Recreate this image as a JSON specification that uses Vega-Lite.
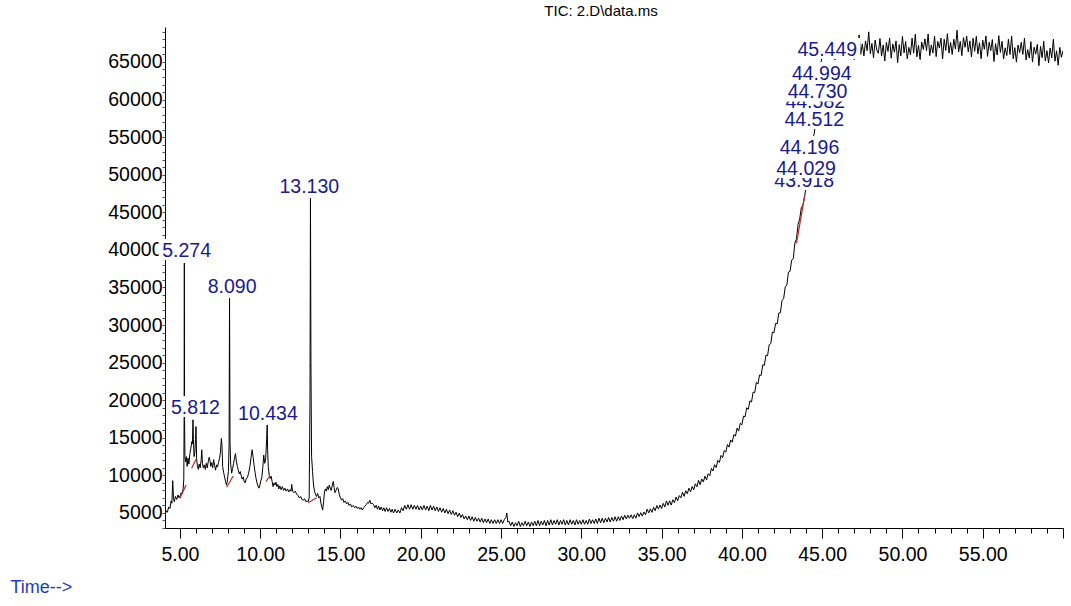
{
"$schema":"https://vega.github.io/schema/vega-lite/v6.json",
"width":898,"height":501,
"autosize":{"type":"none"},
"padding":{"left":165,"top":27,"right":8,"bottom":78},
"background":"white",
"title":{"text":"TIC: 2.D\\data.ms","font":"Liberation Sans","fontSize":15,"fontWeight":"normal","color":"black","anchor":"middle","dx":-13,"offset":3},
"config":{"view":{"stroke":null},"axis":{"domainColor":"black","domainWidth":1,"grid":false,"labelFont":"Liberation Sans","labelFontSize":19.5,"labelColor":"black"}},
"datasets":{
"tic":[
{"t":4.07,"v":4730},{"t":4.15,"v":5300},{"t":4.22,"v":5100},{"t":4.30,"v":5800},{"t":4.38,"v":5600},{"t":4.45,"v":6600},{"t":4.50,"v":6300},{"t":4.55,"v":9300},{"t":4.60,"v":6900},{"t":4.65,"v":6500},{"t":4.72,"v":7200},{"t":4.80,"v":6800},{"t":4.88,"v":7400},{"t":4.95,"v":7000},{"t":5.02,"v":7300},{"t":5.08,"v":7700},{"t":5.14,"v":7600},{"t":5.20,"v":8200},{"t":5.24,"v":9500},{"t":5.26,"v":17000},{"t":5.274,"v":38250},{"t":5.29,"v":17300},{"t":5.31,"v":12500},{"t":5.35,"v":11800},{"t":5.40,"v":12500},{"t":5.45,"v":11200},{"t":5.50,"v":12300},{"t":5.56,"v":11500},{"t":5.62,"v":12900},{"t":5.68,"v":13600},{"t":5.74,"v":14500},{"t":5.78,"v":14200},{"t":5.812,"v":17400},{"t":5.84,"v":14800},{"t":5.88,"v":12500},{"t":5.93,"v":13000},{"t":5.97,"v":14800},{"t":6.00,"v":16500},{"t":6.04,"v":12200},{"t":6.08,"v":11400},{"t":6.14,"v":10800},{"t":6.20,"v":11500},{"t":6.26,"v":11000},{"t":6.32,"v":12000},{"t":6.36,"v":13400},{"t":6.40,"v":11600},{"t":6.46,"v":11000},{"t":6.52,"v":11400},{"t":6.58,"v":10800},{"t":6.64,"v":11600},{"t":6.70,"v":11000},{"t":6.76,"v":11800},{"t":6.82,"v":12400},{"t":6.87,"v":12000},{"t":6.92,"v":11200},{"t":6.98,"v":11700},{"t":7.04,"v":11000},{"t":7.10,"v":12100},{"t":7.16,"v":11300},{"t":7.22,"v":10700},{"t":7.28,"v":11400},{"t":7.34,"v":11100},{"t":7.40,"v":11700},{"t":7.46,"v":12200},{"t":7.52,"v":13000},{"t":7.58,"v":14900},{"t":7.62,"v":14000},{"t":7.66,"v":11200},{"t":7.72,"v":10400},{"t":7.78,"v":9800},{"t":7.84,"v":9200},{"t":7.90,"v":8700},{"t":7.96,"v":9400},{"t":8.02,"v":10500},{"t":8.06,"v":14000},{"t":8.09,"v":33550},{"t":8.12,"v":14500},{"t":8.16,"v":11500},{"t":8.22,"v":10300},{"t":8.28,"v":10900},{"t":8.34,"v":11600},{"t":8.40,"v":12300},{"t":8.46,"v":12900},{"t":8.52,"v":11800},{"t":8.58,"v":11200},{"t":8.64,"v":10600},{"t":8.70,"v":10200},{"t":8.76,"v":10500},{"t":8.82,"v":9900},{"t":8.88,"v":9500},{"t":8.94,"v":9800},{"t":9.00,"v":9200},{"t":9.06,"v":9000},{"t":9.12,"v":9500},{"t":9.20,"v":9700},{"t":9.28,"v":10300},{"t":9.36,"v":11200},{"t":9.44,"v":12600},{"t":9.50,"v":13400},{"t":9.56,"v":12400},{"t":9.62,"v":11300},{"t":9.68,"v":10400},{"t":9.74,"v":9600},{"t":9.80,"v":9000},{"t":9.86,"v":8600},{"t":9.92,"v":8300},{"t":9.98,"v":8700},{"t":10.04,"v":9300},{"t":10.10,"v":9700},{"t":10.16,"v":11000},{"t":10.22,"v":12700},{"t":10.28,"v":11600},{"t":10.34,"v":12200},{"t":10.40,"v":14800},{"t":10.434,"v":16700},{"t":10.46,"v":13500},{"t":10.50,"v":11200},{"t":10.56,"v":10000},{"t":10.62,"v":9600},{"t":10.68,"v":9900},{"t":10.74,"v":9200},{"t":10.80,"v":8500},{"t":10.86,"v":9000},{"t":10.92,"v":8700},{"t":10.98,"v":9100},{"t":11.04,"v":8500},{"t":11.10,"v":8800},{"t":11.16,"v":8200},{"t":11.22,"v":8600},{"t":11.30,"v":8100},{"t":11.38,"v":8500},{"t":11.46,"v":8000},{"t":11.54,"v":8300},{"t":11.62,"v":7900},{"t":11.70,"v":8200},{"t":11.78,"v":7800},{"t":11.86,"v":8100},{"t":11.92,"v":7900},{"t":11.96,"v":8800},{"t":12.02,"v":7900},{"t":12.10,"v":7700},{"t":12.18,"v":7900},{"t":12.27,"v":7500},{"t":12.36,"v":7300},{"t":12.44,"v":7000},{"t":12.52,"v":7200},{"t":12.60,"v":6800},{"t":12.68,"v":6700},{"t":12.76,"v":6900},{"t":12.84,"v":6500},{"t":12.92,"v":6600},{"t":12.99,"v":6500},{"t":13.05,"v":7000},{"t":13.10,"v":20000},{"t":13.13,"v":46860},{"t":13.16,"v":25000},{"t":13.20,"v":12500},{"t":13.26,"v":10500},{"t":13.32,"v":8700},{"t":13.38,"v":7900},{"t":13.44,"v":7500},{"t":13.50,"v":7200},{"t":13.58,"v":7600},{"t":13.64,"v":7000},{"t":13.72,"v":7200},{"t":13.78,"v":6300},{"t":13.84,"v":5800},{"t":13.89,"v":5400},{"t":13.95,"v":6500},
{"t":14.00,"v":7800},{"t":14.06,"v":8200},{"t":14.12,"v":7900},{"t":14.18,"v":8500},{"t":14.24,"v":8100},{"t":14.30,"v":8700},{"t":14.36,"v":8300},{"t":14.42,"v":8000},{"t":14.48,"v":8600},{"t":14.55,"v":9200},{"t":14.60,"v":8400},{"t":14.66,"v":7700},{"t":14.72,"v":8000},{"t":14.80,"v":8400},{"t":14.86,"v":8200},{"t":14.92,"v":7500},{"t":15.00,"v":7000},{"t":15.07,"v":6700},{"t":15.14,"v":6900},{"t":15.22,"v":6400},{"t":15.30,"v":6600},{"t":15.38,"v":6200},{"t":15.46,"v":6400},{"t":15.54,"v":6000},{"t":15.62,"v":6200},{"t":15.70,"v":5800},{"t":15.79,"v":6000},{"t":15.88,"v":5700},{"t":15.96,"v":5900},{"t":16.04,"v":5600},{"t":16.12,"v":5800},{"t":16.20,"v":5500},{"t":16.28,"v":5700},{"t":16.36,"v":5400},{"t":16.44,"v":5700},{"t":16.52,"v":5900},{"t":16.60,"v":6100},{"t":16.68,"v":6400},{"t":16.75,"v":6300},{"t":16.83,"v":6700},{"t":16.90,"v":6200},{"t":16.98,"v":6300},
{"t":17.06,"v":6100},{"t":17.14,"v":5700},{"t":17.22,"v":6000},{"t":17.30,"v":5500},{"t":17.38,"v":5900},{"t":17.46,"v":5400},{"t":17.54,"v":5800},{"t":17.62,"v":5300},{"t":17.70,"v":5700},{"t":17.78,"v":5200},{"t":17.87,"v":5700},{"t":17.96,"v":5200},{"t":18.05,"v":5600},{"t":18.14,"v":5100},{"t":18.22,"v":5500},{"t":18.30,"v":5000},{"t":18.40,"v":5500},{"t":18.50,"v":5000},{"t":18.60,"v":5400},{"t":18.70,"v":5000},{"t":18.80,"v":5700},{"t":18.90,"v":5300},{"t":19.00,"v":6000},{"t":19.10,"v":5500},{"t":19.20,"v":6100},{"t":19.30,"v":5500},{"t":19.40,"v":6100},{"t":19.50,"v":5500},{"t":19.60,"v":6000},{"t":19.70,"v":5500},{"t":19.80,"v":6000},{"t":19.90,"v":5400},{"t":20.00,"v":5900},{"t":20.10,"v":5400},{"t":20.20,"v":6000},{"t":20.30,"v":5400},{"t":20.40,"v":5900},{"t":20.50,"v":5300},{"t":20.60,"v":6000},{"t":20.70,"v":5400},{"t":20.80,"v":5900},{"t":20.90,"v":5300},{"t":21.00,"v":5800},{"t":21.10,"v":5200},{"t":21.20,"v":5700},{"t":21.30,"v":5100},{"t":21.40,"v":5600},{"t":21.50,"v":5000},{"t":21.60,"v":5500},{"t":21.70,"v":4900},{"t":21.80,"v":5400},{"t":21.90,"v":4800},{"t":22.00,"v":5300},{"t":22.10,"v":4700},{"t":22.20,"v":5100},{"t":22.30,"v":4500},{"t":22.40,"v":5000},{"t":22.50,"v":4400},{"t":22.60,"v":4800},{"t":22.70,"v":4200},{"t":22.80,"v":4600},{"t":22.90,"v":4100},{"t":23.00,"v":4600},{"t":23.10,"v":4000},{"t":23.20,"v":4500},{"t":23.30,"v":3900},{"t":23.40,"v":4400},{"t":23.50,"v":3900},{"t":23.60,"v":4300},{"t":23.70,"v":3800},{"t":23.80,"v":4300},{"t":23.90,"v":3700},{"t":24.00,"v":4200},{"t":24.10,"v":3700},{"t":24.20,"v":4200},{"t":24.30,"v":3600},{"t":24.40,"v":4100},{"t":24.50,"v":3600},{"t":24.60,"v":4100},{"t":24.70,"v":3600},{"t":24.80,"v":4100},{"t":24.90,"v":3600},{"t":25.00,"v":4100},{"t":25.10,"v":3600},{"t":25.20,"v":4100},{"t":25.30,"v":4400},{"t":25.36,"v":5000},{"t":25.42,"v":3800},
{"t":25.50,"v":3900},{"t":25.60,"v":3300},{"t":25.70,"v":3800},{"t":25.80,"v":3200},{"t":25.90,"v":3700},{"t":26.00,"v":3300},{"t":26.10,"v":3900},{"t":26.20,"v":3200},{"t":26.30,"v":3700},{"t":26.40,"v":3300},{"t":26.50,"v":3900},{"t":26.60,"v":3300},{"t":26.70,"v":3800},{"t":26.80,"v":3200},{"t":26.90,"v":3800},{"t":27.00,"v":3300},{"t":27.10,"v":3900},{"t":27.20,"v":3300},{"t":27.30,"v":4000},{"t":27.40,"v":3300},{"t":27.50,"v":3900},{"t":27.60,"v":3400},{"t":27.70,"v":4000},{"t":27.80,"v":3300},{"t":27.90,"v":4000},{"t":28.00,"v":3400},{"t":28.10,"v":4100},{"t":28.20,"v":3400},{"t":28.30,"v":4000},{"t":28.40,"v":3500},{"t":28.50,"v":4100},{"t":28.60,"v":3400},{"t":28.70,"v":4000},{"t":28.80,"v":3500},{"t":28.90,"v":4100},{"t":29.00,"v":3400},{"t":29.10,"v":4000},{"t":29.20,"v":3400},{"t":29.30,"v":4100},{"t":29.40,"v":3500},{"t":29.50,"v":4000},{"t":29.60,"v":3400},{"t":29.70,"v":4100},{"t":29.80,"v":3500},{"t":29.90,"v":4000},{"t":30.00,"v":3500},{"t":30.10,"v":4100},{"t":30.20,"v":3500},{"t":30.30,"v":4000},{"t":30.40,"v":3500},{"t":30.50,"v":4200},{"t":30.60,"v":3600},{"t":30.70,"v":4100},{"t":30.80,"v":3600},{"t":30.90,"v":4200},{"t":31.00,"v":3600},{"t":31.10,"v":4300},{"t":31.20,"v":3700},{"t":31.30,"v":4300},{"t":31.40,"v":3700},{"t":31.50,"v":4300},{"t":31.60,"v":3800},{"t":31.70,"v":4400},{"t":31.80,"v":3800},{"t":31.90,"v":4400},{"t":32.00,"v":3900},{"t":32.10,"v":4500},{"t":32.20,"v":3900},{"t":32.30,"v":4500},{"t":32.40,"v":4000},{"t":32.50,"v":4600},{"t":32.60,"v":4100},{"t":32.70,"v":4700},{"t":32.80,"v":4200},{"t":32.90,"v":4700},{"t":33.00,"v":4300},
{"t":33.1,"v":4750},{"t":33.2,"v":4250},{"t":33.3,"v":4755},{"t":33.4,"v":4310},{"t":33.5,"v":5010},{"t":33.6,"v":4515},{"t":33.7,"v":5040},{"t":33.8,"v":4570},{"t":33.9,"v":5135},{"t":34.0,"v":4750},{"t":34.1,"v":5505},{"t":34.2,"v":5010},{"t":34.3,"v":5545},{"t":34.4,"v":5080},{"t":34.5,"v":5765},{"t":34.6,"v":5300},{"t":34.7,"v":5985},{"t":34.8,"v":5520},{"t":34.9,"v":6055},{"t":35.0,"v":5590},{"t":35.1,"v":6275},{"t":35.2,"v":5810},{"t":35.3,"v":6595},{"t":35.4,"v":6030},{"t":35.5,"v":6615},{"t":35.6,"v":6050},{"t":35.7,"v":6760},{"t":35.8,"v":6370},{"t":35.9,"v":7120},{"t":36.0,"v":6620},{"t":36.1,"v":7315},{"t":36.2,"v":7010},{"t":36.3,"v":7760},{"t":36.4,"v":7210},{"t":36.5,"v":7955},{"t":36.6,"v":7550},{"t":36.7,"v":8305},{"t":36.8,"v":7810},{"t":36.9,"v":8515},{"t":37.0,"v":8070},{"t":37.1,"v":8880},{"t":37.2,"v":8490},{"t":37.3,"v":9350},{"t":37.4,"v":8760},{"t":37.5,"v":9520},{"t":37.6,"v":9130},{"t":37.7,"v":9890},{"t":37.8,"v":9400},{"t":37.9,"v":10220},{"t":38.0,"v":9940},{"t":38.1,"v":10935},{"t":38.2,"v":10580},{"t":38.3,"v":11415},{"t":38.4,"v":11050},{"t":38.5,"v":11985},{"t":38.6,"v":11720},{"t":38.7,"v":12660},{"t":38.8,"v":12350},{"t":38.9,"v":13300},{"t":39.0,"v":13100},{"t":39.1,"v":14105},{"t":39.2,"v":13760},{"t":39.3,"v":14715},{"t":39.4,"v":14420},{"t":39.5,"v":15425},{"t":39.6,"v":15230},{"t":39.7,"v":16285},{"t":39.8,"v":15890},{"t":39.9,"v":16935},{"t":40.0,"v":16730},{"t":40.1,"v":17885},{"t":40.2,"v":17790},{"t":40.3,"v":18990},{"t":40.4,"v":18790},{"t":40.5,"v":19925},{"t":40.6,"v":19760},{"t":40.7,"v":21080},{"t":40.8,"v":21000},{"t":40.9,"v":22375},{"t":41.0,"v":22150},{"t":41.1,"v":23350},{"t":41.2,"v":23300},{"t":41.3,"v":24700},{"t":41.4,"v":24650},{"t":41.5,"v":25985},{"t":41.6,"v":25920},{"t":41.7,"v":27380},{"t":41.8,"v":27540},{"t":41.9,"v":29060},{"t":42.0,"v":28980},{"t":42.1,"v":30215},{"t":42.2,"v":30150},{"t":42.3,"v":31595},{"t":42.4,"v":31640},{"t":42.5,"v":33290},{"t":42.6,"v":33490},{"t":42.7,"v":35080},{"t":42.8,"v":35320},{"t":42.9,"v":37035},{"t":43.0,"v":37150},{"t":43.1,"v":38635},{"t":43.2,"v":38820},{"t":43.3,"v":40915},{"t":43.4,"v":41460},{"t":43.5,"v":43405},{"t":43.6,"v":44100},{"t":43.7,"v":45600},{"t":43.8,"v":45950},{"t":43.92,"v":47290},
{"t":44.0,"v":48500},{"t":44.1,"v":50200},{"t":44.2,"v":52000},{"t":44.3,"v":53600},{"t":44.4,"v":54700},{"t":44.5,"v":55400},{"t":44.6,"v":57200},{"t":44.7,"v":59600},{"t":44.8,"v":62100},{"t":44.9,"v":64400},{"t":45.0,"v":66000},{"t":45.1,"v":67400},{"t":45.2,"v":65900},{"t":45.3,"v":67700},{"t":45.4,"v":65700},{"t":45.45,"v":66200},
{"t":45.5,"v":67900},{"t":45.6,"v":65820},{"t":45.7,"v":67340},{"t":45.8,"v":65260},{"t":45.9,"v":67780},{"t":46.0,"v":66400},{"t":46.1,"v":67900},{"t":46.2,"v":65740},{"t":46.3,"v":67160},{"t":46.4,"v":66080},{"t":46.5,"v":67900},{"t":46.6,"v":65620},{"t":46.7,"v":67640},{"t":46.8,"v":66760},{"t":46.9,"v":67900},{"t":47.0,"v":65300},{"t":47.1,"v":67900},{"t":47.2,"v":66400},{"t":47.3,"v":68600},{"t":47.4,"v":66000},{"t":47.5,"v":67400},{"t":47.6,"v":65800},{"t":47.7,"v":67800},{"t":47.8,"v":66500},{"t":47.9,"v":69000},{"t":48.0,"v":66100},{"t":48.1,"v":67470},{"t":48.2,"v":65540},{"t":48.3,"v":67910},{"t":48.4,"v":66580},{"t":48.5,"v":66150},{"t":48.6,"v":68120},{"t":48.7,"v":65790},{"t":48.8,"v":67260},{"t":48.9,"v":65130},{"t":49.0,"v":67600},{"t":49.1,"v":66400},{"t":49.2,"v":68200},{"t":49.3,"v":65500},{"t":49.4,"v":67400},{"t":49.5,"v":66300},{"t":49.6,"v":67800},{"t":49.7,"v":64900},{"t":49.8,"v":67300},{"t":49.9,"v":65800},{"t":50.0,"v":68400},{"t":50.1,"v":66210},{"t":50.2,"v":67720},{"t":50.3,"v":65430},{"t":50.4,"v":66940},{"t":50.5,"v":65950},{"t":50.6,"v":68160},{"t":50.7,"v":66170},{"t":50.8,"v":68680},{"t":50.9,"v":65690},{"t":51.0,"v":67200},{"t":51.1,"v":65320},{"t":51.2,"v":67640},{"t":51.3,"v":66660},{"t":51.4,"v":68080},{"t":51.5,"v":66500},{"t":51.6,"v":68720},{"t":51.7,"v":65840},{"t":51.8,"v":67260},{"t":51.9,"v":66180},{"t":52.0,"v":68400},{"t":52.1,"v":65720},{"t":52.2,"v":67740},{"t":52.3,"v":66860},{"t":52.4,"v":68180},{"t":52.5,"v":65400},{"t":52.6,"v":68020},{"t":52.7,"v":66540},{"t":52.8,"v":68760},{"t":52.9,"v":66180},{"t":53.0,"v":67600},{"t":53.1,"v":66005},{"t":53.2,"v":68010},{"t":53.3,"v":66715},{"t":53.4,"v":69220},{"t":53.5,"v":66325},{"t":53.6,"v":67730},{"t":53.7,"v":65835},{"t":53.8,"v":68240},{"t":53.9,"v":66945},{"t":54.0,"v":68450},{"t":54.1,"v":66325},{"t":54.2,"v":67800},{"t":54.3,"v":65675},{"t":54.4,"v":68150},{"t":54.5,"v":66425},{"t":54.6,"v":68400},{"t":54.7,"v":66075},{"t":54.8,"v":67550},{"t":54.9,"v":65425},{"t":55.0,"v":67900},{"t":55.1,"v":66680},{"t":55.2,"v":68460},{"t":55.3,"v":65740},{"t":55.4,"v":67620},{"t":55.5,"v":66500},{"t":55.6,"v":67980},{"t":55.7,"v":65060},{"t":55.8,"v":67440},{"t":55.9,"v":65920},{"t":56.0,"v":68500},{"t":56.1,"v":66270},{"t":56.2,"v":67740},{"t":56.3,"v":65410},{"t":56.4,"v":66880},{"t":56.5,"v":65850},{"t":56.6,"v":68020},{"t":56.7,"v":65990},{"t":56.8,"v":68460},{"t":56.9,"v":65430},{"t":57.0,"v":66900},{"t":57.1,"v":64980},{"t":57.2,"v":67260},{"t":57.3,"v":66240},{"t":57.4,"v":67620},{"t":57.5,"v":66000},{"t":57.6,"v":68180},{"t":57.7,"v":65260},{"t":57.8,"v":66640},{"t":57.9,"v":65520},{"t":58.0,"v":67700},{"t":58.1,"v":64980},{"t":58.2,"v":66960},{"t":58.3,"v":66040},{"t":58.4,"v":67320},{"t":58.5,"v":64500},{"t":58.6,"v":67080},{"t":58.7,"v":65560},{"t":58.8,"v":67740},{"t":58.9,"v":65120},{"t":59.0,"v":66500},{"t":59.1,"v":64880},{"t":59.2,"v":66860},{"t":59.3,"v":65540},{"t":59.4,"v":68020},{"t":59.5,"v":65100},{"t":59.6,"v":66480},{"t":59.7,"v":64560},{"t":59.8,"v":66940},{"t":59.9,"v":65620},{"t":60.0,"v":66500}
],
"baselines":[
{"g":"a","t":5.00,"v":6950},{"g":"a","t":5.38,"v":8720},
{"g":"b","t":5.73,"v":10950},{"g":"b","t":6.00,"v":12140},
{"g":"c","t":7.91,"v":8420},{"g":"c","t":8.32,"v":9920},
{"g":"d","t":10.36,"v":9160},{"g":"d","t":10.60,"v":9920},
{"g":"e","t":12.99,"v":6370},{"g":"e","t":13.51,"v":7030},
{"g":"f","t":43.40,"v":40870},{"g":"f","t":43.92,"v":47290}
],
"labels":[
{"label":"5.274","t":5.417,"v":39050},
{"label":"5.812","t":5.965,"v":18170},
{"label":"8.090","t":8.25,"v":34260},
{"label":"10.434","t":10.48,"v":17370},
{"label":"13.130","t":13.06,"v":47630},
{"label":"44.029","t":44.0,"v":49950},
{"label":"44.196","t":44.21,"v":52750},
{"label":"44.512","t":44.51,"v":56470},
{"label":"44.730","t":44.71,"v":60150},
{"label":"44.994","t":44.975,"v":62590},
{"label":"45.449","t":45.32,"v":65780}
],
"coveredLabels":[
{"label":"43.918","t":43.88,"v":48360},
{"label":"44.582","t":44.57,"v":58860}
]
},
"layer":[
{"data":{"name":"tic"},
 "mark":{"type":"line","color":"black","strokeWidth":1,"clip":true},
 "encoding":{
  "x":{"field":"t","type":"quantitative","scale":{"domain":[4.07,60],"nice":false,"zero":false},
   "axis":{"values":[5,6,7,8,9,10,11,12,13,14,15,16,17,18,19,20,21,22,23,24,25,26,27,28,29,30,31,32,33,34,35,36,37,38,39,40,41,42,43,44,45,46,47,48,49,50,51,52,53,54,55,56,57,58,59,60],
    "tickCount":200,
    "format":".2f","labelExpr":"datum.value % 5 === 0 && datum.value < 60 ? datum.label : ''",
    "tickSize":{"condition":{"test":"datum.value % 5 === 0","value":10},"value":5},
    "tickColor":"black","labelPadding":7,"labelOverlap":false,"labelFlush":false,
    "title":"Time-->","titleFont":"Liberation Sans","titleFontSize":18,"titleFontWeight":"normal","titleColor":"#1e3cb4","titleX":-155,"titleY":64,"titleAlign":"left","titleBaseline":"alphabetic"}},
  "y":{"field":"v","type":"quantitative","scale":{"domain":[3000,69650],"nice":false,"zero":false},
   "axis":{"values":[3000,4000,5000,6000,7000,8000,9000,10000,11000,12000,13000,14000,15000,16000,17000,18000,19000,20000,21000,22000,23000,24000,25000,26000,27000,28000,29000,30000,31000,32000,33000,34000,35000,36000,37000,38000,39000,40000,41000,42000,43000,44000,45000,46000,47000,48000,49000,50000,51000,52000,53000,54000,55000,56000,57000,58000,59000,60000,61000,62000,63000,64000,65000,66000,67000,68000,69000],
    "tickCount":200,
    "format":"d","labelExpr":"datum.value % 5000 === 0 ? datum.label : ''",
    "tickSize":3,"tickColor":"#555555","labelPadding":0,"labelOverlap":false,"labelFlush":false,"title":null}}
 }},
{"data":{"name":"baselines"},
 "mark":{"type":"line","color":"#c0282d","strokeWidth":1.2},
 "encoding":{"x":{"field":"t","type":"quantitative"},"y":{"field":"v","type":"quantitative"},"detail":{"field":"g","type":"nominal"}}},
{"data":{"name":"coveredLabels"},
 "mark":{"type":"point","shape":"M-1,-0.318L1,-0.318L1,0.318L-1,0.318Z","size":4356,"filled":true,"color":"white","opacity":1,"strokeWidth":0,"yOffset":-7.5},
 "encoding":{"x":{"field":"t","type":"quantitative"},"y":{"field":"v","type":"quantitative"}}},
{"data":{"name":"coveredLabels"},
 "mark":{"type":"text","align":"center","baseline":"alphabetic","font":"Liberation Sans","fontSize":19.5,"color":"#1a1a8c"},
 "encoding":{"x":{"field":"t","type":"quantitative"},"y":{"field":"v","type":"quantitative"},"text":{"field":"label"}}},
{"data":{"name":"labels"},
 "transform":[{"filter":"length(datum.label) == 5"}],
 "mark":{"type":"point","shape":"M-1,-0.375L1,-0.375L1,0.375L-1,0.375Z","size":3136,"filled":true,"color":"white","opacity":1,"strokeWidth":0,"yOffset":-7.5},
 "encoding":{"x":{"field":"t","type":"quantitative"},"y":{"field":"v","type":"quantitative"}}},
{"data":{"name":"labels"},
 "transform":[{"filter":"length(datum.label) == 6"}],
 "mark":{"type":"point","shape":"M-1,-0.318L1,-0.318L1,0.318L-1,0.318Z","size":4356,"filled":true,"color":"white","opacity":1,"strokeWidth":0,"yOffset":-7.5},
 "encoding":{"x":{"field":"t","type":"quantitative"},"y":{"field":"v","type":"quantitative"}}},
{"data":{"name":"labels"},
 "mark":{"type":"text","align":"center","baseline":"alphabetic","font":"Liberation Sans","fontSize":19.5,"color":"#1a1a8c"},
 "encoding":{"x":{"field":"t","type":"quantitative"},"y":{"field":"v","type":"quantitative"},"text":{"field":"label"}}}
]
}
